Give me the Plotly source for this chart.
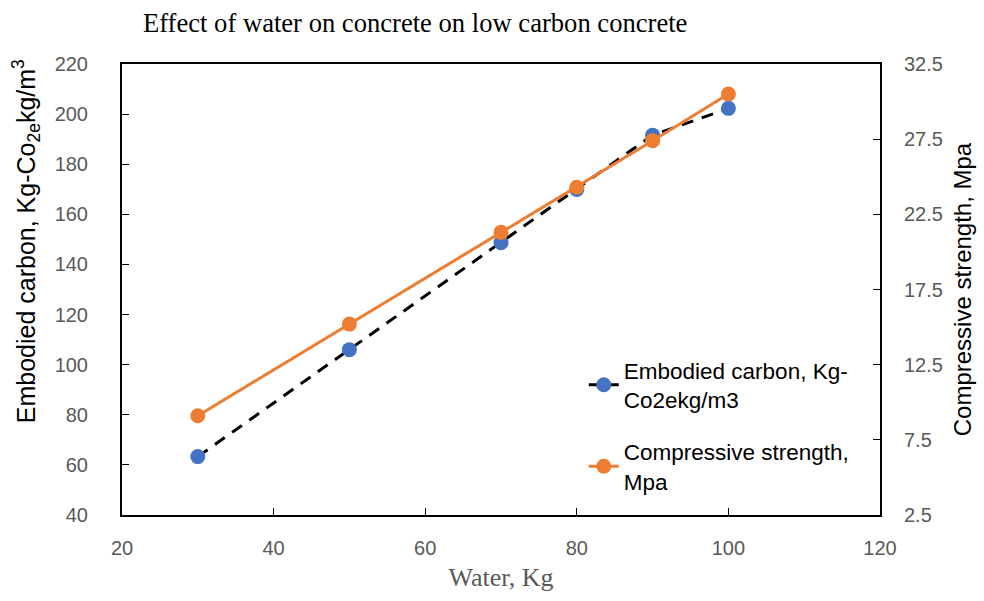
import plotly.graph_objects as go

water = [30, 50, 70, 80, 90, 100]
embodied_carbon = [63.3, 106.0, 148.7, 169.9, 191.6, 202.3]
compressive_strength = [9.1, 15.2, 21.3, 24.3, 27.4, 30.5]

name_ec = "Embodied carbon, Kg-<br>Co2ekg/m3"
name_cs = "Compressive strength,<br>Mpa"

SANS = "Liberation Sans, Arial, sans-serif"
SERIF = "Liberation Serif, Times New Roman, serif"
tick_font = dict(family=SANS, size=20, color="#595959")

PL, PR, PT, PB = 122, 882, 64, 515
W, H = 984, 601

fig = go.Figure()
fig.add_trace(go.Scatter(
    x=water, y=embodied_carbon, name=name_ec, mode="lines+markers",
    legendgroup="a",
    line=dict(color="black", width=3, dash="12px,9px"),
    marker=dict(color="#4472C4", size=15), yaxis="y"))
fig.add_trace(go.Scatter(
    x=water, y=compressive_strength, name=name_cs, mode="lines+markers",
    legendgroup="b",
    line=dict(color="#ED7D31", width=3),
    marker=dict(color="#ED7D31", size=15), yaxis="y2"))

fig.add_annotation(
    text="Embodied carbon, Kg-Co<sub>2e</sub>kg/m<sup>3</sup>",
    xref="paper", yref="paper",
    x=(26 - PL) / (PR - PL), y=(PB - 241) / (PB - PT),
    xanchor="center", yanchor="middle", textangle=-90, showarrow=False,
    font=dict(family=SANS, size=25, color="black"))

fig.update_layout(
    width=W, height=H,
    margin=dict(l=PL, r=W - PR, t=PT, b=H - PB),
    paper_bgcolor="white", plot_bgcolor="white",
    title=dict(text="Effect of water on concrete on low carbon concrete",
               x=143/W, xanchor="left", xref="container",
               y=1-23/H, yanchor="middle", yref="container",
               font=dict(family=SERIF, size=26.6, color="black")),
    xaxis=dict(range=[20, 120], dtick=20, tick0=20, showgrid=False, zeroline=False,
               showline=True, linecolor="black", linewidth=2, mirror=True,
               ticks="inside", ticklen=7, tickcolor="black", tickfont=tick_font,
               ticklabelstandoff=14,
               title=dict(text="Water, Kg", standoff=10,
                          font=dict(family=SERIF, size=26, color="#595959"))),
    yaxis=dict(range=[40, 220], dtick=20, showgrid=False, zeroline=False,
               showline=True, linecolor="black", linewidth=2,
               ticks="inside", ticklen=7, tickcolor="black", tickfont=tick_font,
               ticklabelstandoff=28),
    yaxis2=dict(range=[2.5, 32.5], dtick=5, tick0=2.5, tickformat=".1f", overlaying="y", side="right",
                showgrid=False, zeroline=False,
                showline=True, linecolor="black", linewidth=2,
                ticks="inside", ticklen=7, tickcolor="black", tickfont=tick_font,
                ticklabelstandoff=18,
                title=dict(text="Compressive strength, Mpa", standoff=12,
                           font=dict(family=SANS, size=24, color="black"))),
    showlegend=True,
    legend=dict(x=(585 - PL) / (PR - PL), y=(PB - 349) / (PB - PT),
                xanchor="left", yanchor="top", bgcolor="rgba(0,0,0,0)",
                traceorder="grouped", tracegroupgap=20,
                font=dict(family=SANS, size=22.5, color="black")),
)

fig.write_html("out.html")
